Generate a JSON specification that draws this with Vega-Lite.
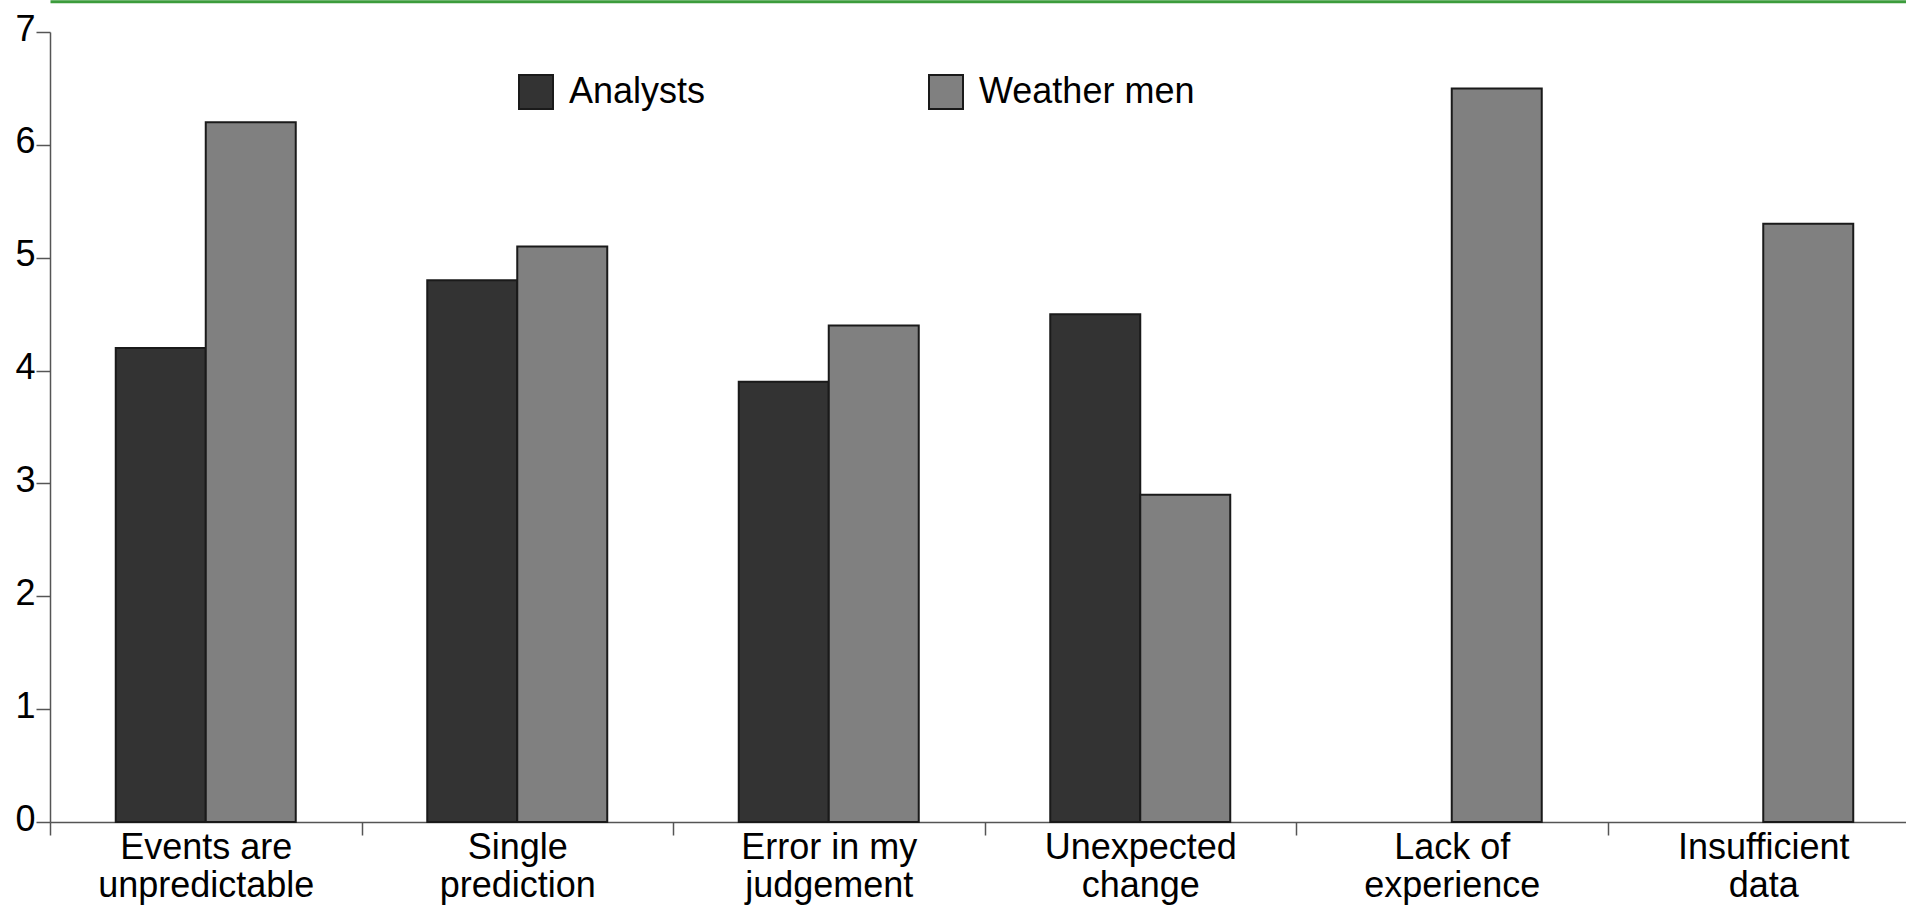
{
  "$schema": "https://vega.github.io/schema/vega-lite/v6.json",
  "width": 1856,
  "height": 790,
  "autosize": {"type": "none"},
  "padding": {"left": 50, "top": 32, "right": 0, "bottom": 87},
  "background": "white",
  "config": {"view": {"stroke": null}, "font": "Liberation Sans"},
  "data": {
    "values": [
      {"category": "Events are|unpredictable", "group": "Analysts", "value": 4.2},
      {"category": "Events are|unpredictable", "group": "Weather men", "value": 6.2},
      {"category": "Single|prediction", "group": "Analysts", "value": 4.8},
      {"category": "Single|prediction", "group": "Weather men", "value": 5.1},
      {"category": "Error in my|judgement", "group": "Analysts", "value": 3.9},
      {"category": "Error in my|judgement", "group": "Weather men", "value": 4.4},
      {"category": "Unexpected|change", "group": "Analysts", "value": 4.5},
      {"category": "Unexpected|change", "group": "Weather men", "value": 2.9},
      {"category": "Lack of|experience", "group": "Weather men", "value": 6.5},
      {"category": "Insufficient|data", "group": "Weather men", "value": 5.3}
    ]
  },
  "layer": [
    {
      "mark": {"type": "bar", "stroke": "#1a1a1a", "strokeWidth": 2},
      "encoding": {
        "x": {
          "field": "category",
          "type": "nominal",
          "sort": ["Events are|unpredictable", "Single|prediction", "Error in my|judgement", "Unexpected|change", "Lack of|experience", "Insufficient|data"],
          "scale": {"range": [0, 1869], "paddingInner": 0, "paddingOuter": 0},
          "axis": {
            "title": null,
            "labelExpr": "split(datum.label, '|')",
            "labelFontSize": 36,
            "labelFont": "Liberation Sans",
            "labelColor": "black",
            "labelLineHeight": 38,
            "labelAngle": 0,
            "labelLimit": 500,
            "tickBand": "extent",
            "tickSize": 13,
            "labelPadding": -5,
            "domainColor": "#555555",
            "tickColor": "#555555",
            "domainWidth": 1.5,
            "tickWidth": 1.5
          }
        },
        "xOffset": {
          "field": "group",
          "type": "nominal",
          "scale": {"domain": ["Analysts", "Weather men"], "paddingInner": 0, "paddingOuter": 0.7306}
        },
        "y": {
          "field": "value",
          "type": "quantitative",
          "scale": {"domain": [0, 7], "nice": false},
          "axis": {
            "title": null,
            "values": [0, 1, 2, 3, 4, 5, 6, 7],
            "grid": false,
            "labelFontSize": 36,
            "labelFont": "Liberation Sans",
            "labelColor": "black",
            "tickSize": 14,
            "labelPadding": 1,
            "labelOffset": -3,
            "domainColor": "#555555",
            "tickColor": "#555555",
            "domainWidth": 1.5,
            "tickWidth": 1.5
          }
        },
        "color": {
          "field": "group",
          "type": "nominal",
          "scale": {"domain": ["Analysts", "Weather men"], "range": ["#333333", "#808080"]},
          "legend": {
            "title": null,
            "orient": "none",
            "legendX": 468,
            "legendY": 42,
            "direction": "horizontal",
            "columns": 2,
            "gridAlign": "all",
            "columnPadding": 140,
            "padding": 0,
            "symbolType": "square",
            "symbolSize": 1156,
            "symbolStrokeColor": "#1a1a1a",
            "symbolStrokeWidth": 2,
            "symbolOpacity": 1,
            "labelFontSize": 36,
            "labelFont": "Liberation Sans",
            "labelColor": "black",
            "labelOffset": 15,
            "labelLimit": 500
          }
        }
      }
    },
    {
      "mark": {"type": "rule", "opacity": 0},
      "encoding": {
        "x": {
          "field": "category",
          "type": "nominal",
          "sort": ["Events are|unpredictable", "Single|prediction", "Error in my|judgement", "Unexpected|change", "Lack of|experience", "Insufficient|data"],
          "axis": {
            "orient": "top",
            "offset": 30.7,
            "title": null,
            "ticks": false,
            "labels": false,
            "domainColor": "#3c9c3c",
            "domainWidth": 3
          }
        }
      }
    }
  ],
  "resolve": {"axis": {"x": "independent"}}
}
